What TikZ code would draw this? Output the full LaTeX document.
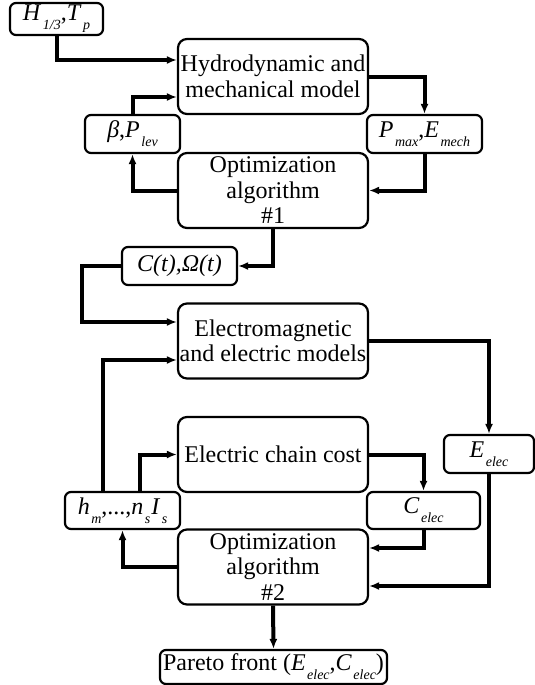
\documentclass[tikz,border=0pt]{standalone}
\usepackage{fontspec}
\setmainfont{Liberation Serif}
\usetikzlibrary{arrows.meta}
\newcommand{\sbs}[2]{\textit{#1}\kern1.5pt\raisebox{-0.8ex}{\fontsize{14}{14}\selectfont\itshape #2}}

\begin{document}
\begin{tikzpicture}[x=1pt, y=-1pt,
            block/.style={draw, line width=2.2pt, rounded corners=9pt, minimum width=190pt, minimum height=75pt, inner sep=0pt, align=center, font=\fontsize{24}{25.5}\selectfont},
            small/.style={draw, line width=2.2pt, rounded corners=6pt, minimum height=38pt, inner sep=0pt, font=\fontsize{24}{25.5}\selectfont},
            flow/.style={-{Latex[length=10pt,width=8pt]}, line width=4pt}]
            \useasboundingbox (0, 0) rectangle (535, 685);
            \node[small, minimum width=93pt, minimum height=32pt] (hs) at (56.5, 19) {\sbs{H}{1/3},\sbs{T}{p}};
            \node[block] (hydro) at (273, 76.5) {Hydrodynamic and\\mechanical model};
            \node[small, minimum width=95pt] (beta) at (132.5, 134) {\textit{β},\sbs{P}{lev}};
            \node[small, minimum width=115pt] (pmax) at (424.5, 134) {\sbs{P}{max},\sbs{E}{mech}};
            \node[block] (opt1) at (273, 190.5) {Optimization\\algorithm\\\#1};
            \node[small, minimum width=115pt] (ct) at (179.5, 266) {\textit{C(t),Ω(t)}};
            \node[block] (em) at (273, 341) {Electromagnetic\\and electric models};
            \node[block] (chain) at (273, 454.5) {Electric chain cost};
            \node[small, minimum width=90pt] (eelec) at (489, 454) {\sbs{E}{elec}};
            \node[small, minimum width=113pt, minimum height=37pt] (celec) at (423.5, 510.5) {\sbs{C}{elec}};
            \node[block] (opt2) at (273, 567) {Optimization\\algorithm\\\#2};
            \node[small, minimum width=115pt, minimum height=37pt] (hm) at (122.5, 510.5) {\sbs{h}{m},...,\sbs{n}{s}\kern1pt\sbs{I}{s}};
            \node[small, minimum width=227pt, minimum height=34pt] (pareto) at (273.5, 667) {Pareto front (\sbs{E}{elec},\sbs{C}{elec})};
            \draw[flow] (hs.south) |- (hydro.west |- 0, 60);
            \draw[flow] (hydro.east) -| (pmax.north);
            \draw[flow] (pmax.south) |- (opt1.east);
            \draw[flow] (opt1.west) -| (beta.south);
            \draw[flow] (beta.north) |- (hydro.west |- 0, 97);
            \draw[flow] (opt1.south) |- (ct.east);
            \draw[flow] (ct.west) -| (82, 322) -- (em.west |- 0, 322);
            \draw[flow] (em.east) -| (eelec.north);
            \draw[flow] (eelec.south) |- (opt2.east |- 0, 586);
            \draw[flow] (chain.east) -| (celec.north);
            \draw[flow] (celec.south) |- (opt2.east |- 0, 548);
            \draw[flow] (opt2.west) -| (hm.south);
            \draw[flow] (hm.north -| 103, 0) |- (em.west |- 0, 360);
            \draw[flow] (hm.north -| 140, 0) |- (chain.west);
            \draw[flow] (opt2.south) -- (pareto.north);
        \end{tikzpicture}
\end{document}
